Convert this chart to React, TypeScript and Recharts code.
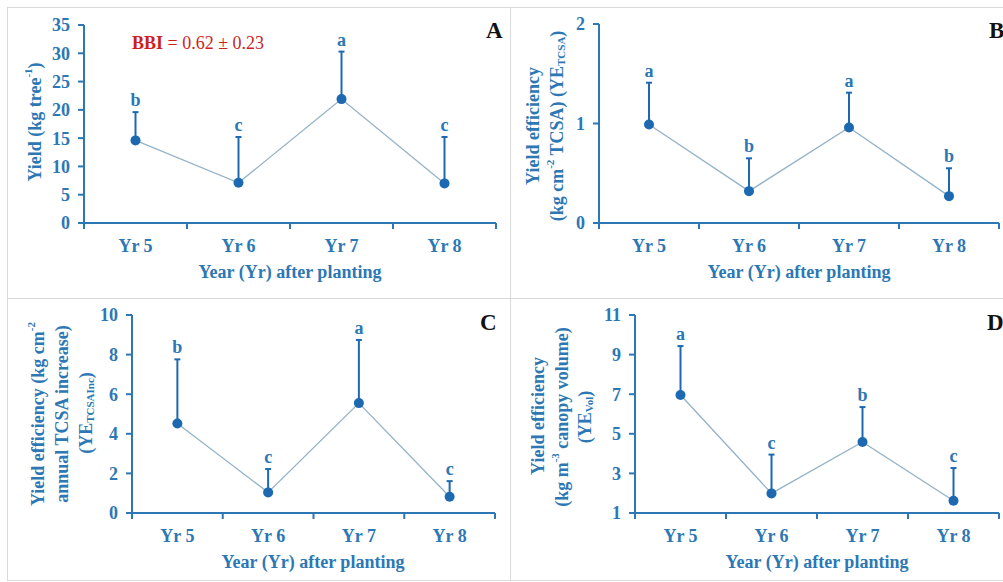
import { LineChart, Line, XAxis, YAxis, ErrorBar, LabelList } from "recharts";

const years = ["Yr 5", "Yr 6", "Yr 7", "Yr 8"];

// Yield (kg/tree)
const yieldMean = [14.6, 7.1, 21.9, 7.0];
const yieldErr = [5.0, 8.1, 8.4, 8.2];
const yieldLetters = ["b", "c", "a", "c"];
const yieldTicks = [0, 5, 10, 15, 20, 25, 30, 35];

// YE TCSA
const tcsaMean = [0.99, 0.32, 0.96, 0.27];
const tcsaErr = [0.42, 0.33, 0.35, 0.28];
const tcsaLetters = ["a", "b", "a", "b"];
const tcsaTicks = [0, 1, 2];

// YE TCSA increase
const incMean = [4.52, 1.04, 5.55, 0.82];
const incErr = [3.24, 1.18, 3.19, 0.79];
const incLetters = ["b", "c", "a", "c"];
const incTicks = [0, 2, 4, 6, 8, 10];

// YE canopy volume
const volMean = [6.96, 1.99, 4.59, 1.62];
const volErr = [2.47, 1.96, 1.76, 1.65];
const volLetters = ["a", "c", "b", "c"];
const volTicks = [1, 3, 5, 7, 9, 11];

const xTicks = [0, 0.5, 1, 1.5, 2, 2.5, 3, 3.5, 4];

const AXIS = "#2c77b4";
const MARK = "#1c69b2";
const LINE = "#93b2c8";
const SERIF = "'Liberation Serif', 'Times New Roman', serif";

function makeRows(mean: number[], err: number[], letters: string[]) {
  return years.map((name, i) => ({
    x: i + 0.5,
    name,
    mean: mean[i],
    err: [0, err[i]],
    top: mean[i] + err[i],
    letter: letters[i],
  }));
}

function YearTick(props: any) {
  const { x, y, payload } = props;
  const v = payload.value as number;
  if (Number.isInteger(v)) {
    return <line x1={x} x2={x} y1={y} y2={y + 6} stroke={AXIS} strokeWidth={2} />;
  }
  return (
    <text
      x={x}
      y={y + 23}
      textAnchor="middle"
      dominantBaseline="central"
      fill={AXIS}
      fontSize={18}
      fontWeight={700}
      fontFamily={SERIF}
    >
      {years[Math.floor(v)]}
    </text>
  );
}

interface PanelProps {
  left: number;
  top: number;
  width: number;
  height: number;
  margin: { top: number; right: number; bottom: number; left: number };
  domain: [number, number];
  ticks: number[];
  rows: ReturnType<typeof makeRows>;
}

function Panel({ left, top, width, height, margin, domain, ticks, rows }: PanelProps) {
  return (
    <div style={{ position: "absolute", left, top }}>
      <LineChart width={width} height={height} data={rows} margin={margin}>
        <XAxis
          dataKey="x"
          type="number"
          domain={[0, 4]}
          ticks={xTicks}
          interval={0}
          allowDecimals
          height={30}
          tickSize={0}
          tickMargin={0}
          tickLine={false}
          axisLine={{ stroke: AXIS, strokeWidth: 2 }}
          tick={<YearTick />}
        />
        <YAxis
          type="number"
          domain={domain}
          ticks={ticks}
          interval={0}
          width={60}
          tickSize={6}
          tickMargin={8}
          axisLine={{ stroke: AXIS, strokeWidth: 2 }}
          tickLine={{ stroke: AXIS, strokeWidth: 2 }}
          tick={{ fill: AXIS, fontSize: 18, fontWeight: 700, fontFamily: SERIF }}
        />
        <Line
          dataKey="mean"
          stroke={LINE}
          strokeWidth={1.3}
          isAnimationActive={false}
          dot={{ r: 5, fill: MARK, stroke: MARK, strokeWidth: 0 }}
          activeDot={false}
        >
          <ErrorBar dataKey="err" direction="y" width={3} stroke={MARK} strokeWidth={2} />
        </Line>
        <Line
          dataKey="top"
          stroke="none"
          dot={false}
          activeDot={false}
          isAnimationActive={false}
        >
          <LabelList
            dataKey="letter"
            position="top"
            offset={6}
            fill={AXIS}
            fontSize={18}
            fontWeight={700}
            fontFamily={SERIF}
          />
        </Line>
      </LineChart>
    </div>
  );
}

const titleStyle = {
  fill: AXIS,
  fontSize: 18,
  fontWeight: 700,
  fontFamily: SERIF,
};

function VTitle({ x, y, children }: { x: number; y: number; children: any }) {
  return (
    <text
      x={x}
      y={y}
      transform={`rotate(-90 ${x} ${y})`}
      textAnchor="middle"
      dominantBaseline="central"
      {...titleStyle}
    >
      {children}
    </text>
  );
}

function XTitle({ x, y }: { x: number; y: number }) {
  return (
    <text x={x} y={y} textAnchor="middle" dominantBaseline="central" {...titleStyle}>
      Year (Yr) after planting
    </text>
  );
}

const frame = (left: number, top: number, width: number, height: number) => (
  <div
    style={{
      position: "absolute",
      left,
      top,
      width,
      height,
      border: "1px solid #d9d9d9",
      boxSizing: "border-box",
    }}
  />
);

export default function App() {
  return (
    <div
      style={{
        position: "absolute",
        left: 0,
        top: 0,
        width: 1003,
        height: 582,
        overflow: "hidden",
        background: "#fff",
      }}
    >
      {frame(7, 7, 504, 292)}
      {frame(510, 7, 500, 292)}
      {frame(7, 298, 504, 283)}
      {frame(510, 298, 500, 283)}

      <Panel
        left={7}
        top={7}
        width={503}
        height={291}
        margin={{ top: 18, right: 14, bottom: 45, left: 17 }}
        domain={[0, 35]}
        ticks={yieldTicks}
        rows={makeRows(yieldMean, yieldErr, yieldLetters)}
      />
      <Panel
        left={511}
        top={7}
        width={492}
        height={291}
        margin={{ top: 17, right: 4, bottom: 45, left: 28 }}
        domain={[0, 2]}
        ticks={tcsaTicks}
        rows={makeRows(tcsaMean, tcsaErr, tcsaLetters)}
      />
      <Panel
        left={7}
        top={298}
        width={503}
        height={284}
        margin={{ top: 17, right: 15, bottom: 39, left: 65 }}
        domain={[0, 10]}
        ticks={incTicks}
        rows={makeRows(incMean, incErr, incLetters)}
      />
      <Panel
        left={511}
        top={298}
        width={492}
        height={284}
        margin={{ top: 17, right: 4, bottom: 39, left: 64 }}
        domain={[1, 11]}
        ticks={volTicks}
        rows={makeRows(volMean, volErr, volLetters)}
      />

      <svg
        width={1003}
        height={582}
        style={{ position: "absolute", left: 0, top: 0, pointerEvents: "none" }}
      >
        {/* panel A */}
        <VTitle x={35} y={122}>
          Yield (kg tree<tspan dy={-7} fontSize={11}>-1</tspan>
          <tspan dy={7}>)</tspan>
        </VTitle>
        <XTitle x={290} y={272} />
        <text x={132} y={49} fill="#cc1f1f" fontSize={18} fontFamily={SERIF}>
          <tspan fontWeight={700}>BBI</tspan> = 0.62 ± 0.23
        </text>
        <text x={486} y={38} fontSize={23} fontWeight={700} fontFamily={SERIF} fill="#111">
          A
        </text>

        {/* panel B */}
        <VTitle x={533} y={126}>
          Yield efficiency
        </VTitle>
        <VTitle x={557} y={126}>
          (kg cm<tspan dy={-7} fontSize={11}>-2</tspan>
          <tspan dy={7}> TCSA) (YE</tspan>
          <tspan dy={4} fontSize={11}>TCSA</tspan>
          <tspan dy={-4}>)</tspan>
        </VTitle>
        <XTitle x={799} y={272} />
        <text x={989} y={38} fontSize={23} fontWeight={700} fontFamily={SERIF} fill="#111">
          B
        </text>

        {/* panel C */}
        <VTitle x={38} y={414}>
          Yield efficiency (kg cm<tspan dy={-7} fontSize={11}>-2</tspan>
        </VTitle>
        <VTitle x={62} y={414}>
          annual TCSA increase)
        </VTitle>
        <VTitle x={86} y={413}>
          (YE<tspan dy={4} fontSize={11}>TCSAInc</tspan>
          <tspan dy={-4}>)</tspan>
        </VTitle>
        <XTitle x={313} y={562} />
        <text x={480} y={330} fontSize={23} fontWeight={700} fontFamily={SERIF} fill="#111">
          C
        </text>

        {/* panel D */}
        <VTitle x={538} y={416}>
          Yield efficiency
        </VTitle>
        <VTitle x={562} y={417}>
          (kg m<tspan dy={-7} fontSize={11}>-3</tspan>
          <tspan dy={7}> canopy volume)</tspan>
        </VTitle>
        <VTitle x={585} y={417}>
          (YE<tspan dy={4} fontSize={11}>Vol</tspan>
          <tspan dy={-4}>)</tspan>
        </VTitle>
        <XTitle x={817} y={562} />
        <text x={987} y={330} fontSize={23} fontWeight={700} fontFamily={SERIF} fill="#111">
          D
        </text>
      </svg>
    </div>
  );
}
